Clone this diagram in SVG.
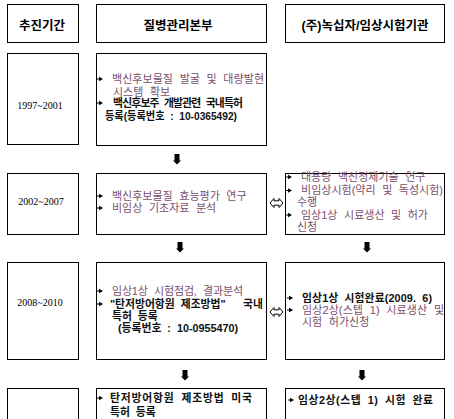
<svg xmlns="http://www.w3.org/2000/svg" xmlns:xlink="http://www.w3.org/1999/xlink" width="454" height="419" viewBox="0 0 454 419">
<style>
  .box{fill:#fff;stroke:#000;stroke-width:1}
  .hd{font-family:"Liberation Sans","Noto Sans CJK KR",sans-serif;font-size:12.5px;font-weight:700;fill:#000;text-anchor:middle}
  .yr{font-family:"Liberation Serif",serif;font-size:10px;fill:#000;text-anchor:middle}
  .t{font-family:"Liberation Sans","Noto Sans CJK KR",sans-serif;font-size:11px;fill:#7a4f6e;word-spacing:3.5px}
  .b{font-family:"Liberation Sans","Noto Sans CJK KR",sans-serif;font-size:10.8px;font-weight:700;fill:#111;word-spacing:3px}
  .da{fill:#000}
  .lr{fill:#fff;stroke:#000;stroke-width:1}
</style>
<defs>
  <path id="bul" d="M0,-0.5 h2 v-1.8 l4,2.3 l-4,2.3 v-1.8 h-2 z" fill="#000"/>
  <path id="dn" d="M-2.5,0 h5 v6.5 h1.5 l-4,4 l-4,-4 h1.5 z"/>
  <path id="lr" d="M0,0 l4,-4.5 v2.3 h5 v-2.3 l4,4.5 l-4,4.5 v-2.3 h-5 v2.3 z"/>
</defs>

<g id="header">
  <g id="h1"><rect class="box" x="7.5" y="4.5" width="71" height="38"/><text class="hd" x="42" y="29.5">추진기간</text></g>
  <g id="h2"><rect class="box" x="96.5" y="4.5" width="170" height="38"/><text class="hd" x="178" y="29.5">질병관리본부</text></g>
  <g id="h3"><rect class="box" x="285.5" y="4.5" width="159" height="38"/><text class="hd" x="365" y="29.5">(주)녹십자/임상시험기관</text></g>
</g>

<g id="y1"><rect class="box" x="7.5" y="53.5" width="71" height="91"/><text class="yr" x="40" y="109">1997~2001</text></g>
<g id="y2"><rect class="box" x="7.5" y="173.5" width="71" height="61"/><text class="yr" x="41" y="205">2002~2007</text></g>
<g id="y3"><rect class="box" x="7.5" y="262.5" width="71" height="97"/><text class="yr" x="40" y="306">2008~2010</text></g>
<g id="y4"><rect class="box" x="7.5" y="388.5" width="71" height="40"/></g>

<g id="k1">
  <rect class="box" x="96.5" y="53.5" width="170" height="92"/>
  <use xlink:href="#bul" x="97" y="79"/>
  <use xlink:href="#bul" x="97" y="103"/>
  <text class="t" x="112" y="83" textLength="152" lengthAdjust="spacing">백신후보물질 발굴 및 대량발현</text>
  <text class="t" x="113" y="96">시스템 확보</text>
  <text class="b" x="113" y="107" textLength="130" lengthAdjust="spacing">백신후보주 개발관련 국내특허</text>
  <text class="b" x="105" y="120" textLength="132" lengthAdjust="spacingAndGlyphs">등록(등록번호 : 10-0365492)</text>
</g>

<g id="k2">
  <rect class="box" x="96.5" y="173.5" width="170" height="61"/>
  <use xlink:href="#bul" x="97" y="196"/>
  <use xlink:href="#bul" x="97" y="208"/>
  <text class="t" x="112" y="200">백신후보물질 효능평가 연구</text>
  <text class="t" x="112" y="212">비임상 기초자료 분석</text>
</g>

<g id="g2">
  <rect class="box" x="285.5" y="173.5" width="159" height="61"/>
  <use xlink:href="#bul" x="286" y="177"/>
  <use xlink:href="#bul" x="286" y="190.5"/>
  <use xlink:href="#bul" x="286" y="215"/>
  <text class="t" x="301" y="181">대용량 백신정제기술 연구</text>
  <text class="t" x="301" y="194" textLength="142" lengthAdjust="spacing">비임상시험(약리 및 독성시험)</text>
  <text class="t" x="297" y="206">수행</text>
  <text class="t" x="301" y="219">임상1상 시료생산 및 허가</text>
  <text class="t" x="297" y="231">신청</text>
</g>

<g id="k3">
  <rect class="box" x="96.5" y="262.5" width="170" height="97"/>
  <use xlink:href="#bul" x="97" y="291"/>
  <use xlink:href="#bul" x="97" y="304"/>
  <text class="t" x="112" y="295" textLength="131" lengthAdjust="spacing">임상1상 시험점검, 결과분석</text>
  <text class="b" x="110" y="308">"탄저방어항원 제조방법"<tspan x="243">국내</tspan></text>
  <text class="b" x="112" y="320">특허 등록</text>
  <text class="b" x="118" y="332">(등록번호 : 10-0955470)</text>
</g>

<g id="g3">
  <rect class="box" x="285.5" y="262.5" width="159" height="97"/>
  <use xlink:href="#bul" x="287" y="298"/>
  <use xlink:href="#bul" x="287" y="310"/>
  <text class="b" x="302" y="302" textLength="130" lengthAdjust="spacing">임상1상 시험완료(2009. 6)</text>
  <text class="t" x="302" y="314" textLength="142" lengthAdjust="spacing">임상2상(스텝 1) 시료생산 및</text>
  <text class="t" x="302" y="326">시험 허가신청</text>
</g>

<g id="k4">
  <rect class="box" x="96.5" y="388.5" width="170" height="40"/>
  <use xlink:href="#bul" x="97" y="398"/>
  <text class="b" x="110" y="402" textLength="142" lengthAdjust="spacing">탄저방어항원 제조방법 미국</text>
  <text class="b" x="110" y="416">특허 등록</text>
</g>

<g id="g4">
  <rect class="box" x="285.5" y="388.5" width="159" height="40"/>
  <use xlink:href="#bul" x="288" y="400"/>
  <text class="b" x="298" y="404" textLength="135" lengthAdjust="spacing">임상2상(스텝 1) 시험 완료</text>
</g>

<g id="connectors">
  <use class="da" xlink:href="#dn" x="177" y="154"/>
  <use class="da" xlink:href="#dn" x="180" y="242"/>
  <use class="da" xlink:href="#dn" x="367" y="242"/>
  <use class="da" xlink:href="#dn" x="185" y="370"/>
  <use class="da" xlink:href="#dn" x="362" y="370"/>
  <use class="lr" xlink:href="#lr" x="270" y="203"/>
  <use class="lr" xlink:href="#lr" x="270" y="312"/>
</g>
</svg>
